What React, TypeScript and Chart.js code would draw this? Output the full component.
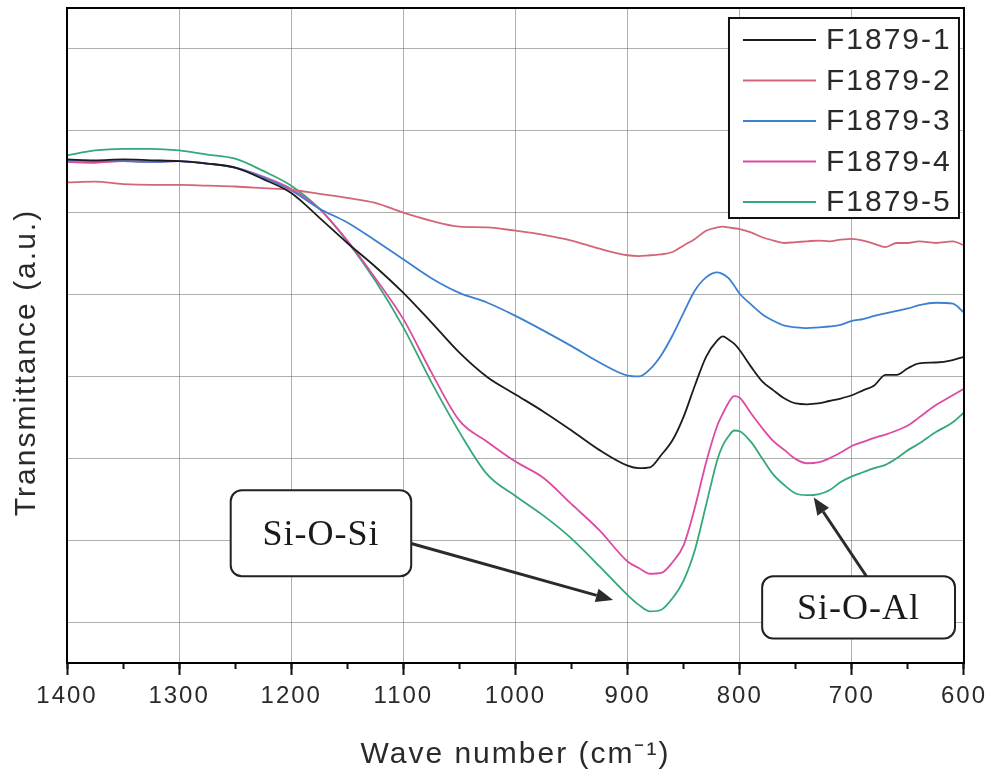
import React, { useEffect, useRef } from "react";
import { Chart, registerables } from "chart.js";

Chart.register(...registerables);

// ---- Data ----
const WAVENUMBERS = [
  1400, 1375, 1350, 1325, 1300, 1275, 1250, 1225, 1200, 1175, 1150, 1125, 1100,
  1075, 1050, 1025, 1000, 975, 950, 925, 900, 890, 880, 870, 860, 850, 840, 830,
  820, 815, 810, 805, 800, 790, 780, 770, 760, 750, 740, 730, 720, 710, 700, 690,
  680, 670, 660, 650, 640, 625, 610, 600,
];

const F1879_1 = [
  6.65, 6.64, 6.65, 6.64, 6.63, 6.6, 6.55, 6.41, 6.24, 5.94, 5.63, 5.34, 5.02,
  4.66, 4.29, 3.99, 3.78, 3.57, 3.34, 3.1, 2.91, 2.88, 2.89, 3.04, 3.22, 3.51, 3.89, 4.24,
  4.44, 4.49, 4.45, 4.4, 4.32, 4.12, 3.94, 3.83, 3.73, 3.67, 3.66, 3.67, 3.7, 3.73, 3.77, 3.83,
  3.89, 4.02, 4.02, 4.1, 4.16, 4.17, 4.2, 4.24,
];

const F1879_2 = [
  6.37, 6.38, 6.35, 6.34, 6.34, 6.33, 6.32, 6.3, 6.28, 6.23, 6.18, 6.12, 6.0,
  5.9, 5.83, 5.82, 5.78, 5.73, 5.66, 5.56, 5.48, 5.47, 5.48, 5.49, 5.52, 5.6, 5.68, 5.78,
  5.82, 5.83, 5.82, 5.81, 5.8, 5.76, 5.7, 5.66, 5.63, 5.64, 5.65, 5.66, 5.65, 5.67, 5.68, 5.66,
  5.62, 5.58, 5.63, 5.63, 5.65, 5.63, 5.65, 5.6,
];

const F1879_3 = [
  6.64, 6.63, 6.63, 6.62, 6.63, 6.6, 6.55, 6.43, 6.27, 6.05, 5.88, 5.66, 5.43,
  5.2, 5.02, 4.9, 4.74, 4.56, 4.37, 4.17, 4.01, 4.0, 4.09, 4.26, 4.5, 4.78, 5.05, 5.21,
  5.27, 5.25, 5.2, 5.11, 5.01, 4.88, 4.76, 4.68, 4.62, 4.6, 4.59, 4.6, 4.61, 4.63, 4.68, 4.7,
  4.74, 4.77, 4.8, 4.83, 4.87, 4.9, 4.89, 4.78,
];

const F1879_4 = [
  6.62, 6.61, 6.63, 6.62, 6.63, 6.6, 6.55, 6.44, 6.29, 6.05, 5.66, 5.2, 4.7,
  4.05, 3.46, 3.2, 2.96, 2.76, 2.44, 2.12, 1.74, 1.66, 1.59, 1.6, 1.73, 1.94, 2.4, 2.95,
  3.4, 3.55, 3.68, 3.76, 3.74, 3.55, 3.37, 3.21, 3.1, 2.99, 2.94, 2.95, 3.0, 3.07, 3.15, 3.2,
  3.25, 3.29, 3.34, 3.4, 3.5, 3.65, 3.77, 3.85,
];

const F1879_5 = [
  6.7, 6.76, 6.78, 6.78, 6.76, 6.71, 6.66, 6.51, 6.33, 6.05, 5.65, 5.17, 4.6,
  3.93, 3.32, 2.8, 2.54, 2.3, 2.02, 1.68, 1.33, 1.21, 1.13, 1.15, 1.29, 1.51, 1.88, 2.43,
  2.98, 3.16, 3.27, 3.34, 3.33, 3.2, 3.0, 2.8, 2.67, 2.57, 2.55, 2.56, 2.61, 2.71, 2.78, 2.83,
  2.88, 2.92, 3.0, 3.1, 3.18, 3.32, 3.44, 3.56,
];

const SERIES_LABELS = ["F1879-1", "F1879-2", "F1879-3", "F1879-4", "F1879-5"];
const SERIES_VALUES = [F1879_1, F1879_2, F1879_3, F1879_4, F1879_5];
const SERIES_COLORS = ["#1c1c1c", "#d36676", "#3c80d0", "#dc4aa2", "#34a877"];

const X_MIN = 600;
const X_MAX = 1400;
const X_STEP = 100;
const X_MINOR_STEP = 50;
const Y_MIN = 0.5;
const Y_MAX = 8.5;
const Y_GRID = [1, 2, 3, 4, 5, 6, 7, 8];

const X_TITLE = "Wave number (cm\u207B\u00B9)";
const Y_TITLE = "Transmittance (a.u.)";

// annotation labels anchored in data coordinates
const ANNOTATIONS = [
  { text: "Si-O-Si", x1: 1254, y1: 2.61, x2: 1093, y2: 1.56, fromX: 1093, fromY: 1.96, toX: 913, toY: 1.27 },
  { text: "Si-O-Al", x1: 780, y1: 1.56, x2: 608, y2: 0.8, fromX: 687, fromY: 1.56, toX: 734, toY: 2.52 },
];

const TEXT_COLOR = "#2a2a2a";
const SANS = "'Liberation Sans', Arial, sans-serif";
const SERIF = "'Liberation Serif', 'Times New Roman', serif";

const framePlugin = {
  id: "frame",
  beforeDraw(chart: any) {
    chart.ctx.letterSpacing = "2px";
  },
  afterDatasetsDraw(chart: any) {
    const { ctx, chartArea, scales } = chart;
    const xs = scales.x;
    const ys = scales.y;
    ctx.save();
    ctx.letterSpacing = "0px";

    // frame
    ctx.strokeStyle = "#000";
    ctx.lineWidth = 2;
    ctx.strokeRect(chartArea.left, chartArea.top, chartArea.right - chartArea.left, chartArea.bottom - chartArea.top);

    // annotations
    ANNOTATIONS.forEach((a) => {
      const bx1 = xs.getPixelForValue(a.x1);
      const bx2 = xs.getPixelForValue(a.x2);
      const by1 = ys.getPixelForValue(a.y1);
      const by2 = ys.getPixelForValue(a.y2);
      const fx = xs.getPixelForValue(a.fromX);
      const fy = ys.getPixelForValue(a.fromY);
      const tx = xs.getPixelForValue(a.toX);
      const ty = ys.getPixelForValue(a.toY);

      // arrow shaft
      const ang = Math.atan2(ty - fy, tx - fx);
      const headLen = 17;
      const headW = 7;
      const sx = tx - Math.cos(ang) * headLen;
      const sy = ty - Math.sin(ang) * headLen;
      ctx.strokeStyle = "#2b2b2b";
      ctx.lineWidth = 3;
      ctx.beginPath();
      ctx.moveTo(fx, fy);
      ctx.lineTo(sx, sy);
      ctx.stroke();
      ctx.fillStyle = "#2b2b2b";
      ctx.beginPath();
      ctx.moveTo(tx, ty);
      ctx.lineTo(sx + Math.sin(ang) * headW, sy - Math.cos(ang) * headW);
      ctx.lineTo(sx - Math.sin(ang) * headW, sy + Math.cos(ang) * headW);
      ctx.closePath();
      ctx.fill();

      // box
      const left = Math.min(bx1, bx2);
      const top = Math.min(by1, by2);
      const w = Math.abs(bx2 - bx1);
      const h = Math.abs(by2 - by1);
      ctx.fillStyle = "#fff";
      ctx.strokeStyle = "#222";
      ctx.lineWidth = 2;
      ctx.beginPath();
      ctx.roundRect(left, top, w, h, 11);
      ctx.fill();
      ctx.stroke();
      ctx.fillStyle = "#1a1a1a";
      ctx.font = `36px ${SERIF}`;
      ctx.textAlign = "center";
      ctx.textBaseline = "middle";
      ctx.letterSpacing = "1px";
      ctx.fillText(a.text, left + w / 2, top + h / 2 + 2);
      ctx.letterSpacing = "0px";
    });

    // legend (inside plot, top-right)
    const datasets = chart.data.datasets;
    const lgRight = chartArea.right - 5;
    const lgLeft = lgRight - 230;
    const lgTop = chartArea.top + 10;
    const rowH = 40.5;
    const lgH = 200;
    ctx.fillStyle = "#fff";
    ctx.fillRect(lgLeft, lgTop, lgRight - lgLeft, lgH);
    ctx.strokeStyle = "#111";
    ctx.lineWidth = 2;
    ctx.strokeRect(lgLeft, lgTop, lgRight - lgLeft, lgH);
    ctx.font = `30px ${SANS}`;
    ctx.textAlign = "left";
    ctx.textBaseline = "middle";
    ctx.letterSpacing = "2px";
    datasets.forEach((ds: any, i: number) => {
      const cy = lgTop + 22 + i * rowH;
      ctx.strokeStyle = ds.borderColor;
      ctx.lineWidth = 2;
      ctx.beginPath();
      ctx.moveTo(lgLeft + 14, cy);
      ctx.lineTo(lgLeft + 87, cy);
      ctx.stroke();
      ctx.fillStyle = TEXT_COLOR;
      ctx.fillText(ds.label, lgLeft + 97, cy + 1);
    });
    ctx.restore();
  },
  afterDraw(chart: any) {
    const { ctx, chartArea } = chart;
    ctx.save();
    ctx.letterSpacing = "2px";
    ctx.translate(27, (chartArea.top + chartArea.bottom) / 2 + 27);
    ctx.rotate(-Math.PI / 2);
    ctx.font = `30px ${SANS}`;
    ctx.fillStyle = TEXT_COLOR;
    ctx.textAlign = "center";
    ctx.textBaseline = "middle";
    ctx.fillText(Y_TITLE, 0, 0);
    ctx.restore();
    ctx.letterSpacing = "0px";
  },
};

export default function App() {
  const canvasRef = useRef<HTMLCanvasElement | null>(null);

  useEffect(() => {
    document.body.style.margin = "0";
    const canvas = canvasRef.current;
    if (!canvas) return;

    const datasets = SERIES_LABELS.map((label, i) => ({
      label,
      data: WAVENUMBERS.map((w, j) => ({ x: w, y: SERIES_VALUES[i][j] })),
      borderColor: SERIES_COLORS[i],
      backgroundColor: SERIES_COLORS[i],
      borderWidth: 1.8,
      pointRadius: 0,
      cubicInterpolationMode: "monotone" as const,
      fill: false,
    }));

    const chart = new Chart(canvas, {
      type: "line",
      data: { datasets },
      plugins: [framePlugin],
      options: {
        animation: false,
        responsive: false,
        maintainAspectRatio: false,
        layout: { padding: { top: 8, right: 26, left: 0, bottom: 0 } },
        plugins: {
          legend: { display: false },
          tooltip: { enabled: false },
        },
        scales: {
          x: {
            type: "linear",
            position: "bottom",
            reverse: true,
            min: X_MIN,
            max: X_MAX,
            weight: 1,
            afterFit: (s: any) => {
              s.height = 110;
            },
            ticks: {
              stepSize: X_STEP,
              padding: 7,
              color: TEXT_COLOR,
              font: { family: SANS, size: 24 },
              maxRotation: 0,
              autoSkip: false,
              callback: (v: any) => String(v),
            },
            grid: {
              color: "rgba(110,110,110,0.55)",
              lineWidth: 1,
              tickColor: "#111",
              tickWidth: 2,
              tickLength: 12,
            },
            border: { display: true, color: "#000", width: 2 },
            title: {
              display: true,
              text: X_TITLE,
              color: TEXT_COLOR,
              font: { family: SANS, size: 30 },
              padding: { top: 0, bottom: 0 },
            },
          },
          xMinor: {
            type: "linear",
            position: "bottom",
            reverse: true,
            min: X_MIN,
            max: X_MAX,
            weight: 0,
            afterFit: (s: any) => {
              s.height = 0;
            },
            ticks: { stepSize: X_MINOR_STEP, display: false },
            grid: {
              drawOnChartArea: false,
              drawTicks: true,
              tickColor: "#111",
              tickWidth: 2,
              tickLength: 6,
            },
            border: { display: false },
          },
          y: {
            type: "linear",
            min: Y_MIN,
            max: Y_MAX,
            afterFit: (s: any) => {
              s.width = 67;
            },
            afterBuildTicks: (s: any) => {
              s.ticks = Y_GRID.map((v) => ({ value: v }));
            },
            ticks: { display: false },
            grid: {
              color: "rgba(110,110,110,0.55)",
              lineWidth: 1,
              drawTicks: false,
            },
            border: { display: true, color: "#000", width: 2 },
            title: { display: false },
          },
        },
      },
    });

    return () => chart.destroy();
  }, []);

  return (
    <div style={{ width: 991, height: 773 }}>
      <canvas ref={canvasRef} width={991} height={773} />
    </div>
  );
}
